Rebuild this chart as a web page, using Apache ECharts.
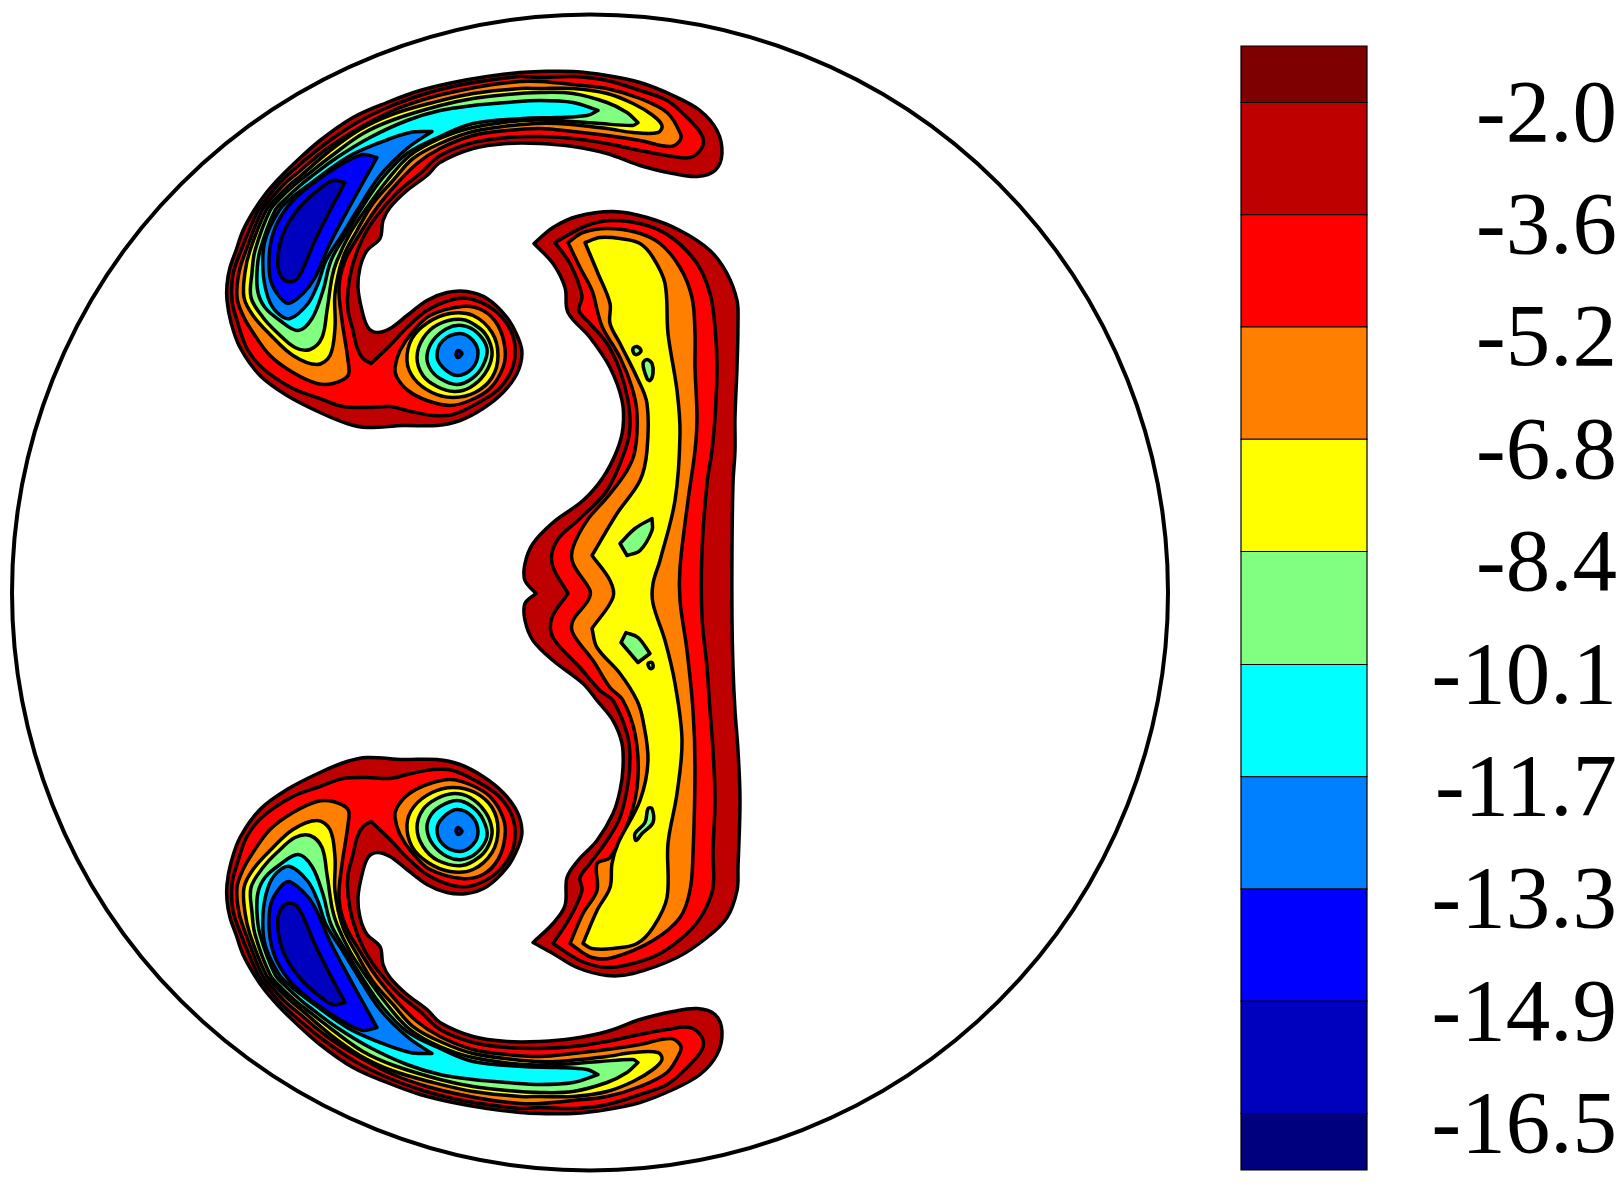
<!DOCTYPE html>
<html><head><meta charset="utf-8">
<style>html,body{margin:0;padding:0;background:#fff}#c{width:1620px;height:1185px}</style>
<script src="https://cdn.jsdelivr.net/npm/echarts@6/dist/echarts.min.js"></script>
</head><body><div id="c"></div>
<script>
// colour bar
const legendEdges=[-1.19,-2.0,-3.61,-5.22,-6.83,-8.44,-10.06,-11.67,-13.28,-14.89,-16.5,-17.31];
const legendLevels=[-2.0,-3.61,-5.22,-6.83,-8.44,-10.06,-11.67,-13.28,-14.89,-16.5];
const bandColors=['#7f0000','#bf0000','#ff0000','#ff8000','#ffff00','#80ff80','#00ffff','#0080ff','#0000ff','#0000bf','#00007f'];
// domain boundary
const domainCentre=[0,0];
const domainRadius=578;
// upper crescent + vortex contours (x, y); a repeated point marks a sharp corner
const L1=[[-203,490],[-170,502],[-137,510],[-103,516],[-70,520],[-50,521],[-17,521],[17,517],[50,510],[83,497],[110,482],[127,462],[132,439],[125,422],[107,416],[83,419],[50,427],[17,439],[-17,446],[-50,449],[-83,449],[-117,444],[-150,430],[-163,417],[-183,402],[-200,385],[-207,372],[-210,354],[-223,342],[-230,325],[-232,305],[-228,282],[-222,265],[-213,260],[-200,264],[-183,277],[-163,292],[-143,300],[-123,301],[-103,294],[-83,275],[-72,255],[-68,239],[-73,219],[-87,200],[-107,184],[-130,172],[-153,167],[-187,167],[-223,165],[-243,169],[-270,180],[-303,197],[-330,217],[-350,245],[-359,270],[-363,292],[-363,308],[-360,325],[-354,342],[-347,362],[-336,382],[-325,398],[-312,413],[-298,427],[-270,452],[-237,475]];
const L2=[[-200,486],[-167,498],[-137,506],[-103,512],[-70,516],[-50,515],[-17,516],[17,512],[50,502],[77,492],[97,475],[112,457],[112,445],[100,435],[77,437],[50,442],[17,449],[-17,454],[-50,456],[-83,455],[-117,450],[-150,437],[-170,419],[-193,400],[-213,377],[-227,355],[-237,329],[-242,302],[-242,282],[-237,262],[-233,245],[-227,234],[-219,229],[-219,229],[-200,247],[-183,265],[-163,282],[-137,293],[-117,293],[-93,280],[-78,259],[-75,237],[-80,219],[-93,202],[-113,189],[-137,178],[-157,177],[-183,182],[-200,186],[-223,185],[-247,186],[-270,194],[-297,204],[-327,224],[-343,244],[-353,272],[-358,292],[-357,318],[-349,342],[-332,382],[-321,397],[-309,411],[-296,423],[-267,447],[-233,470]];
const L3=[[-230,465],[-197,482],[-163,494],[-130,502],[-97,508],[-70,511],[-50,511],[-17,508],[17,504],[50,494],[77,480],[90,460],[90,452],[80,446],[50,452],[17,457],[-17,461],[-50,464],[-83,462],[-117,457],[-150,444],[-173,429],[-193,409],[-213,385],[-230,359],[-245,332],[-251,305],[-248,272],[-242,232],[-242,217],[-257,209],[-273,209],[-297,220],[-320,237],[-337,260],[-347,277],[-353,295],[-351,320],[-344,342],[-328,382],[-317,396],[-305,409],[-292,420],[-263,444]];
const L4=[[-289,417],[-261,441],[-230,463],[-198,478],[-157,490],[-117,499],[-70,504],[-50,504],[-17,504],[17,499],[43,489],[63,477],[72,467],[68,460],[43,460],[17,464],[-33,469],[-67,468],[-117,461],[-150,449],[-177,434],[-197,412],[-217,389],[-233,362],[-247,335],[-255,299],[-255,265],[-260,237],[-273,228],[-297,237],[-320,258],[-337,277],[-346,295],[-345,320],[-340,342],[-324,382],[-313,395],[-301,407]];
const L5=[[-285,416],[-258,437],[-227,459],[-196,473],[-150,487],[-117,494],[-83,498],[-50,500],[-17,499],[17,490],[37,480],[48,470],[48,470],[43,467],[10,469],[-33,472],[-67,472],[-117,465],[-150,454],[-180,437],[-203,412],[-223,385],[-240,359],[-253,332],[-258,315],[-263,282],[-268,255],[-280,243],[-295,245],[-313,260],[-327,275],[-339,295],[-338,320],[-335,342],[-320,382],[-308,396],[-295,408]];
const L6=[[-280,415],[-253,435],[-220,455],[-183,472],[-150,482],[-117,487],[-83,490],[-50,492],[-17,490],[8,482],[8,482],[-3,477],[-33,475],[-67,474],[-117,469],[-150,456],[-183,439],[-207,415],[-228,385],[-243,360],[-259,332],[-267,302],[-278,274],[-292,262],[-310,272],[-325,285],[-332,300],[-333,320],[-330,342],[-315,382],[-303,395],[-290,407]];
const L7=[[-158,461],[-158,461],[-180,460],[-210,450],[-243,435],[-285,405],[-299,394],[-311,382],[-325,352],[-327,322],[-322,295],[-313,280],[-300,274],[-282,289],[-272,309],[-264,332],[-247,359],[-233,382],[-210,417],[-183,444]];
const L8=[[-213,435],[-213,435],[-227,438],[-247,429],[-273,412],[-297,392],[-313,369],[-320,345],[-320,315],[-313,299],[-302,289],[-287,299],[-275,315],[-260,349],[-237,392]];
const L9=[[-245,410],[-245,410],[-257,412],[-270,404],[-287,389],[-302,369],[-310,349],[-312,325],[-305,312],[-295,312],[-287,324],[-275,352],[-260,382]];
const V3=[[-85,244],[-87,225],[-100,204],[-120,192],[-140,187],[-163,192],[-182,202],[-193,215],[-195,225],[-190,242],[-178,260],[-160,277],[-128,286],[-107,282],[-92,267]];
const V4=[[-92,237],[-98,215],[-115,200],[-137,195],[-158,200],[-176,214],[-183,232],[-178,254],[-162,270],[-140,279],[-117,277],[-98,260]];
const V5=[[-98,237],[-105,219],[-120,205],[-136,201],[-153,206],[-167,217],[-173,235],[-167,254],[-152,268],[-128,273],[-110,264],[-101,252]];
const V6=[[-103,244],[-107,227],[-118,214],[-133,208],[-150,214],[-160,224],[-163,237],[-157,252],[-143,264],[-128,267],[-113,260]];
const V7=[[-153,237],[-147,252],[-130,259],[-117,252],[-112,239],[-118,224],[-133,217],[-147,225]];
const V8=[[-132,242],[-128,239],[-132,235],[-134,238]];
// central band contours
const S1=[[-56,349],[-56,349],[-37,365],[-13,376],[23,381],[57,375],[90,362],[120,342],[137,319],[147,292],[148,269],[147,225],[145,175],[145,142],[143,109],[142,42],[142,-25],[143,-75],[145,-118],[148,-158],[150,-208],[148,-275],[147,-298],[137,-325],[117,-345],[87,-365],[43,-381],[17,-383],[-13,-375],[-37,-361],[-57,-350],[-57,-350],[-37,-331],[-25,-313],[-23,-285],[-12,-268],[7,-248],[23,-221],[30,-198],[33,-175],[32,-151],[23,-128],[7,-108],[-7,-91],[-37,-68],[-57,-48],[-65,-28],[-65,-11],[-54,-1],[-54,-1],[-65,12],[-65,29],[-57,49],[-37,70],[-7,92],[13,115],[27,142],[33,165],[32,192],[20,225],[0,255],[-22,280],[-25,305],[-37,329]];
const S2=[[-35,350],[-35,350],[-3,367],[23,372],[57,367],[83,354],[107,329],[120,299],[125,265],[127,225],[125,175],[122,142],[117,109],[112,42],[112,-25],[117,-75],[120,-118],[123,-158],[125,-208],[123,-258],[123,-295],[113,-321],[97,-341],[70,-361],[43,-371],[17,-375],[-10,-368],[-37,-351],[-37,-351],[-20,-325],[-8,-298],[-10,-285],[0,-271],[17,-248],[30,-225],[38,-191],[40,-165],[37,-141],[23,-108],[10,-98],[-10,-75],[-37,-45],[-38,-25],[-22,-1],[-22,-1],[-38,29],[-33,52],[-10,74],[17,102],[35,142],[40,165],[38,192],[30,222],[17,249],[0,269],[-11,282],[-8,297],[-20,329]];
const S3=[[-22,350],[-22,350],[-7,360],[17,364],[47,360],[70,349],[90,325],[102,295],[105,259],[105,225],[107,175],[105,142],[98,92],[90,25],[90,-8],[97,-58],[103,-118],[105,-175],[103,-261],[100,-298],[90,-325],[63,-348],[23,-365],[2,-365],[-20,-351],[-20,-351],[-7,-321],[7,-298],[7,-271],[20,-265],[40,-225],[48,-185],[45,-141],[33,-108],[20,-95],[3,-68],[-17,-41],[-17,-28],[-2,-8],[0,2],[-17,29],[-17,45],[-3,72],[17,95],[37,122],[45,142],[47,179],[42,205],[30,235],[13,264],[8,279],[2,302],[-10,325]];
const S4=[[-5,350],[-5,350],[10,355],[30,354],[50,349],[63,335],[75,309],[78,259],[87,202],[90,159],[85,92],[70,32],[63,9],[63,-11],[75,-48],[85,-91],[92,-148],[87,-201],[78,-251],[77,-305],[63,-335],[47,-351],[23,-356],[2,-356],[-7,-351],[-7,-351],[7,-318],[20,-295],[22,-271],[28,-251],[50,-208],[58,-168],[53,-128],[47,-108],[30,-81],[7,-55],[2,-36],[2,-36],[23,-5],[20,12],[2,37],[2,37],[27,79],[50,112],[57,142],[57,189],[47,215],[30,249],[20,269],[20,289],[8,319]];
const I1=[[43,244],[47,246],[51,242],[47,238],[44,239]];
const I2=[[53,229],[57,233],[62,229],[63,219],[60,212],[57,214]];
const I3=[[30,49],[30,49],[45,64],[62,74],[62,74],[62,62],[50,42],[37,37],[37,37]];
const I4=[[31,-50],[31,-50],[36,-40],[36,-40],[48,-45],[60,-61],[60,-61],[48,-70],[48,-70]];
const I5=[[58,-71],[62,-70],[63,-75],[60,-76]];
const I6=[[45,-241],[55,-230],[58,-216],[62,-216],[63,-230],[52,-241],[46,-248]];

// band index 1 = #bf0000 ...; the lobes are mirrored across y = 0 in the reference
const upperLobe=[[1,L1],[2,L2],[3,L3],[4,L4],[5,L5],[6,L6],[7,L7],[8,L8],[9,L9],[3,V3],[4,V4],[5,V5],[6,V6],[7,V7],[8,V8]];
const lowerLobe=upperLobe.map(([b,p])=>[b,p.map(([x,y])=>[x,-y])]);
const spine=[[1,S1],[2,S2],[3,S3],[4,S4],[5,I1],[5,I2],[5,I3],[5,I4],[5,I5],[5,I6]];
const contours=[...upperLobe,...lowerLobe,...spine];

const chart=echarts.init(document.getElementById('c'),null,{renderer:'canvas'});
chart.setOption({
  animation:false,
  backgroundColor:'#fff',
  grid:[
    {left:0,right:0,top:0,bottom:0},
    {left:1241,width:126,top:46,height:1124}
  ],
  xAxis:[
    {type:'value',gridIndex:0,min:-590,max:1030,show:false},
    {type:'value',gridIndex:1,min:0,max:1,show:false}
  ],
  yAxis:[
    {type:'value',gridIndex:0,min:-592.5,max:592.5,show:false},
    {type:'value',gridIndex:1,min:-17.31,max:-1.19,position:'right',
     axisLine:{show:false},axisTick:{show:false},splitLine:{show:false},
     axisLabel:{customValues:legendLevels,align:'right',verticalAlign:'top',lineHeight:30,margin:250,
       fontFamily:'"Liberation Serif",serif',fontSize:89,color:'#000',
       formatter:v=>v.toFixed(1)}}
  ],
  series:[
    {type:'custom',xAxisIndex:0,yAxisIndex:0,silent:true,clip:false,z:1,
     data:[[0]],
     renderItem:(p,api)=>{
       const c=api.coord(domainCentre);
       return {type:'circle',shape:{cx:c[0],cy:c[1],r:api.size([domainRadius,0])[0]},
         style:{fill:'none',stroke:'#000',lineWidth:4}};
     }},
    {type:'custom',xAxisIndex:0,yAxisIndex:0,silent:true,clip:false,z:2,
     data:contours.map((c,i)=>[i]),
     renderItem:(p,api)=>{
       const [band,pts]=contours[p.dataIndex];
       return {type:'polygon',shape:{points:pts.map(q=>api.coord(q)),smooth:0.35},
         style:{fill:bandColors[band],stroke:'#000',lineWidth:3.5,lineJoin:'round'}};
     }},
    {type:'custom',xAxisIndex:1,yAxisIndex:1,silent:true,clip:false,z:2,
     data:bandColors.map((c,i)=>[i]),
     renderItem:(p,api)=>{
       const i=p.dataIndex;
       const a=api.coord([0,legendEdges[i]]), b=api.coord([1,legendEdges[i+1]]);
       return {type:'rect',shape:{x:a[0],y:a[1],width:b[0]-a[0],height:b[1]-a[1]},
         style:{fill:bandColors[i],stroke:'#000',lineWidth:1.2}};
     }}
  ]
});
</script></body></html>
